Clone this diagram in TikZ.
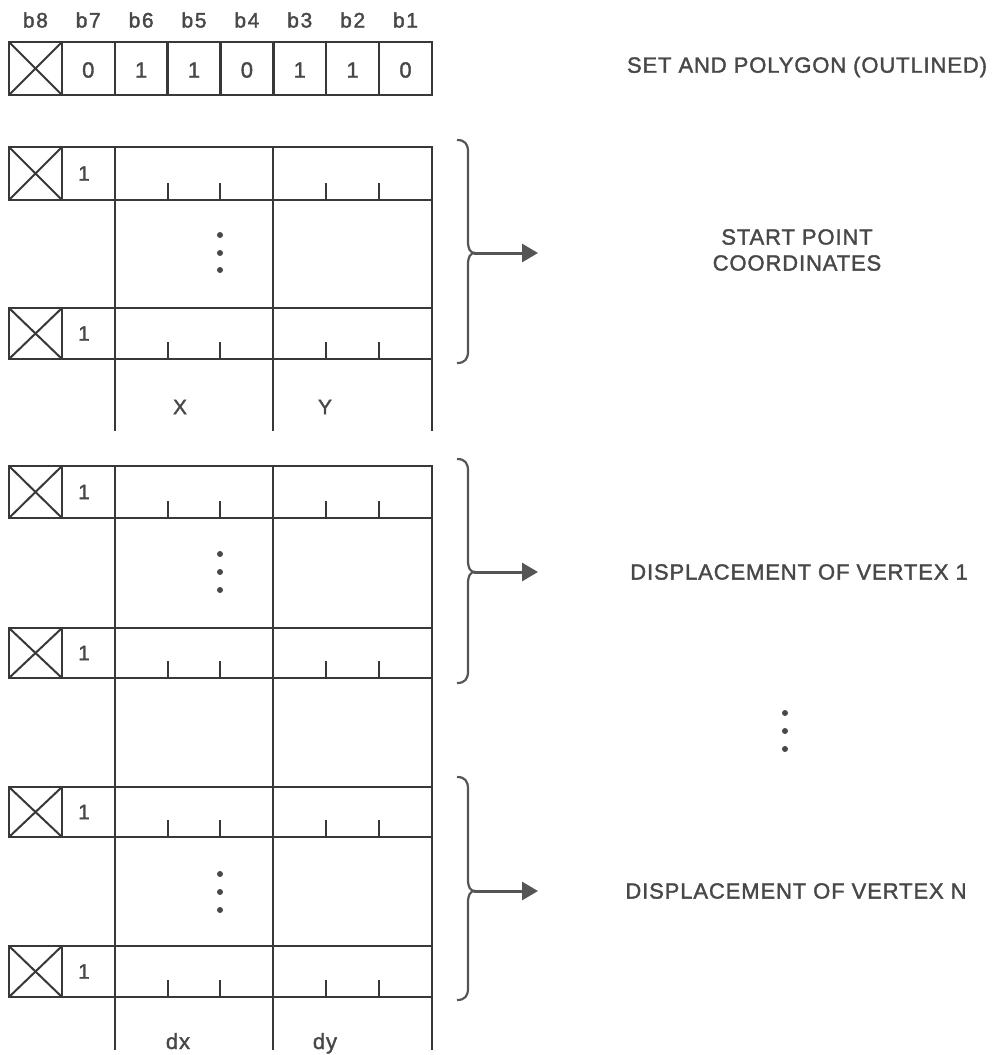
\documentclass[tikz,border=0pt]{standalone}
\usepackage{fontspec}
\setmainfont{Liberation Sans}
\newfontfamily\mylblfont[LetterSpace=4,FakeBold=1.6]{Liberation Sans}
\newfontfamily\myhdrfont[LetterSpace=8,FakeBold=1.8]{Liberation Sans}
\usetikzlibrary{arrows.meta}
\definecolor{linec}{HTML}{383838}
\definecolor{textc}{HTML}{484848}
\definecolor{bracec}{HTML}{555555}
\newcommand\mydatarow[3]{%
  \draw[grid] (9,#1) rectangle (432,#2);
  \draw[grid] (62,#1) -- (62,#2) (115,#1) -- (115,#2) (273,#1) -- (273,#2);
  \draw[cross] (9,#1) -- (62,#2) (9,#2) -- (62,#1);
  \foreach \tx in {167.5,220,326,379} \draw[tick] (\tx,#2) -- (\tx,{#2-17});
  \node[txt] (#3) at (84,{(#1+#2)/2}) {1};
}
\newcommand\mybrace[4]{%
  \draw[brc] (457,#1) .. controls (465,#1) and (468,{#1+4}) .. (468,{#1+12})
    -- (468,{#2-12}) .. controls (468,{#2-4}) and (470,#2) .. (475,#2)
    .. controls (470,#2) and (468,{#2+4}) .. (468,{#2+12})
    -- (468,{#3-12}) .. controls (468,{#3-4}) and (465,#3) .. (457,#3);
  \coordinate (#4t) at (474,#2);
  \coordinate (#4e) at (538,#2);
  \draw[arr] (#4t) -- (#4e);
}
\begin{document}
\begin{tikzpicture}[x=1pt,y=-1pt,
  grid/.style={draw=linec, line width=2.4pt},
  cross/.style={draw=linec, line width=2pt},
  tick/.style={draw=linec, line width=2pt},
  hdr/.style={text=textc, font=\myhdrfont\fontsize{21}{24}\selectfont, inner sep=0pt},
  cell/.style={text=textc, font=\mylblfont\fontsize{22}{24}\selectfont, inner sep=0pt},
  txt/.style={text=textc, font=\mylblfont\fontsize{21}{24}\selectfont, inner sep=0pt},
  col/.style={text=textc, font=\mylblfont\fontsize{21}{24}\selectfont, inner sep=0pt},
  lbl/.style={text=textc, font=\mylblfont\fontsize{22}{26}\selectfont, inner sep=0pt, align=center},
  brc/.style={draw=bracec, line width=2.2pt},
  arr/.style={draw=bracec, line width=3pt, -{Triangle[length=16pt,width=18pt]}},
  dot/.style={circle, fill=textc, inner sep=0pt, minimum size=6pt}]
\useasboundingbox[fill=white] (0,0) rectangle (1001,1055);

% header
\foreach \n [count=\k from 0] in {8,...,1}
  \node[hdr] (h\n) at ({35.4+52.875*\k},20) {b\n};

% top row
\draw[grid] (9,42) rectangle (432,95);
\foreach \i in {1,...,7} \draw[grid] ({9+52.875*\i},42) -- ({9+52.875*\i},95);
\draw[cross] (9,42) -- (62,95) (9,95) -- (62,42);
\foreach \v [count=\k from 1] in {0,1,1,0,1,1,0}
  \node[cell] (v\k) at ({35.4+52.875*\k},70) {\v};
\node[lbl] (title) at (807,67) {SET AND POLYGON (OUTLINED)};

% group 1: start point
\mydatarow{147}{200}{g1a}
\mydatarow{308}{359}{g1b}
\foreach \xx in {115,273,432} \draw[grid] (\xx,200) -- (\xx,431);
\node[dot] (g1d1) at (220,235) {};
\node[dot] (g1d2) at (220,253) {};
\node[dot] (g1d3) at (220,270) {};
\node[col] (lx) at (180,407) {X};
\node[col] (ly) at (325,407) {Y};
\mybrace{140}{253}{363}{b1}
\node[lbl] (start) at (797,250) {START POINT\\COORDINATES};

% group 2: vertex 1
\mydatarow{466}{518}{g2a}
\mydatarow{628}{678}{g2b}
\foreach \xx in {115,273,432} \draw[grid] (\xx,518) -- (\xx,787);
\node[dot] (g2d1) at (220,554) {};
\node[dot] (g2d2) at (220,572) {};
\node[dot] (g2d3) at (220,590) {};
\mybrace{459}{572}{683}{b2}
\node[lbl] (disp1) at (799,572) {DISPLACEMENT OF VERTEX 1};

\node[dot] (rd1) at (785,713) {};
\node[dot] (rd2) at (785,731) {};
\node[dot] (rd3) at (785,749) {};

% group 3: vertex N
\mydatarow{787}{837}{g3a}
\mydatarow{946}{997}{g3b}
\foreach \xx in {115,273,432} \draw[grid] (\xx,837) -- (\xx,1050);
\node[dot] (g3d1) at (220,874) {};
\node[dot] (g3d2) at (220,892) {};
\node[dot] (g3d3) at (220,910) {};
\node[cell, anchor=base] (ldx) at (178,1049) {dx};
\node[cell, anchor=base] (ldy) at (325,1049) {dy};
\mybrace{777}{891}{1000}{b3}
\node[lbl] (dispn) at (796,891) {DISPLACEMENT OF VERTEX N};
\end{tikzpicture}
\end{document}
